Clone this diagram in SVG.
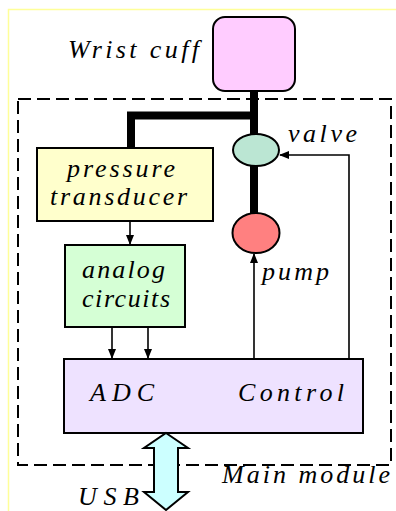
<svg xmlns="http://www.w3.org/2000/svg" width="396" height="511" viewBox="0 0 396 511">
<style>
.t{font-family:"Liberation Serif","Times New Roman",serif;font-style:italic;font-size:26px;fill:#000}
.b{stroke:#000;stroke-width:2}
.pipe{stroke:#000;stroke-width:8;fill:none}
.w{stroke:#000;stroke-width:1.6;fill:none}
</style>
<defs>
<marker id="ah" markerWidth="10" markerHeight="8" refX="9" refY="4" orient="auto" markerUnits="userSpaceOnUse">
<path d="M0,0 L10,4 L0,8 Z" fill="#000"/>
</marker>
</defs>
<rect width="396" height="511" fill="#fff"/>
<path d="M8.5,511 V9.5 H396" fill="none" stroke="#ffff99" stroke-width="1.5"/>
<g id="main-module">
<rect x="18" y="99" width="373" height="366" fill="none" stroke="#000" stroke-width="2" stroke-dasharray="13,6"/>
<text class="t" x="222" y="483" textLength="168" lengthAdjust="spacing">Main module</text>
</g>
<g id="connectors">
<path class="pipe" d="M254,91 V134 M131,148 V115.5 H258"/>
<path class="pipe" d="M254,166 V214"/>
<path class="w" d="M130,221 V244" marker-end="url(#ah)"/>
<path class="w" d="M112,327 V358" marker-end="url(#ah)"/>
<path class="w" d="M148,327 V358" marker-end="url(#ah)"/>
<path class="w" d="M254,359 V254" marker-end="url(#ah)"/>
<path class="w" d="M349,359 V155 H280" marker-end="url(#ah)"/>
</g>
<g id="wrist-cuff">
<rect x="213" y="17" width="82" height="74" rx="12" fill="#ffccff" class="b"/>
<text class="t" x="68" y="58" textLength="131" lengthAdjust="spacing">Wrist cuff</text>
</g>
<g id="valve">
<ellipse cx="256" cy="150" rx="23" ry="16" fill="#bbe6d3" class="b"/>
<text class="t" x="288" y="142" textLength="69" lengthAdjust="spacing">valve</text>
</g>
<g id="pump">
<ellipse cx="256" cy="233" rx="23.5" ry="20" fill="#ff8080" class="b"/>
<text class="t" x="262" y="280" textLength="67" lengthAdjust="spacing">pump</text>
</g>
<g id="pressure-transducer">
<rect x="37" y="148" width="176" height="73" fill="#ffffcc" class="b"/>
<text class="t" x="67" y="177" textLength="108" lengthAdjust="spacing">pressure</text>
<text class="t" x="50" y="205" textLength="137" lengthAdjust="spacing">transducer</text>
</g>
<g id="analog-circuits">
<rect x="65" y="245" width="120" height="82" fill="#d5ffd5" class="b"/>
<text class="t" x="82" y="278" textLength="83" lengthAdjust="spacing">analog</text>
<text class="t" x="82" y="307" textLength="88" lengthAdjust="spacing">circuits</text>
</g>
<g id="adc-control">
<rect x="64" y="359" width="299" height="74" fill="#eee2ff" class="b"/>
<text class="t" x="90" y="401" textLength="64" lengthAdjust="spacing">ADC</text>
<text class="t" x="238" y="401" textLength="106" lengthAdjust="spacing">Control</text>
</g>
<g id="usb">
<path d="M166,433 L188,448 L178,448 L178,492 L188,492 L166,510 L144,492 L154,492 L154,448 L144,448 Z" fill="#ccffff" stroke="#000" stroke-width="2"/>
<text class="t" x="78" y="505" textLength="61" lengthAdjust="spacing">USB</text>
</g>
</svg>
